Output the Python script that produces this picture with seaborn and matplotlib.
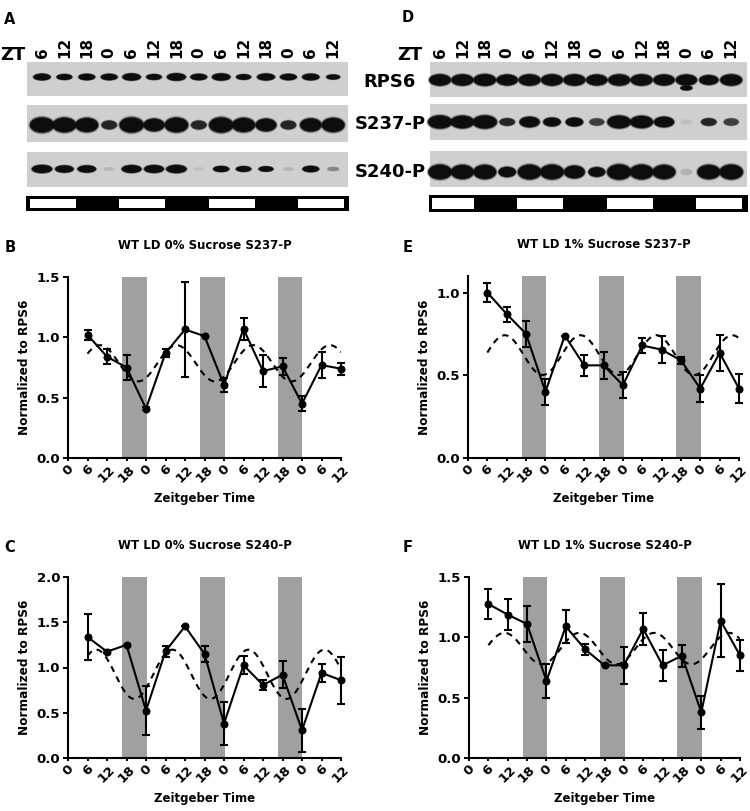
import numpy as np
import pandas as pd
import matplotlib
matplotlib.use("Agg")
import matplotlib.pyplot as plt
import seaborn as sns
from matplotlib.patches import Rectangle, Ellipse

sns.set_theme(style="ticks")
plt.rcParams["font.family"] = ["DejaVu Sans"]
plt.rcParams["font.weight"] = "bold"
plt.rcParams["axes.labelweight"] = "bold"
plt.rcParams["text.color"] = "black"
plt.rcParams["axes.labelcolor"] = "black"
plt.rcParams["xtick.color"] = "black"
plt.rcParams["ytick.color"] = "black"
plt.rcParams["axes.titlecolor"] = "black"

# ---------------- data ----------------
zt_hours = [6, 12, 18, 24, 30, 36, 42, 48, 54, 60, 66, 72, 78, 84]
x_ticks = [0, 6, 12, 18, 24, 30, 36, 42, 48, 54, 60, 66, 72, 78, 84]
x_tick_labels = ["0", "6", "12", "18", "0", "6", "12", "18", "0", "6", "12", "18", "0", "6", "12"]
lane_labels = ["6", "12", "18", "0", "6", "12", "18", "0", "6", "12", "18", "0", "6", "12"]
dark_periods = [(16.6, 24.2), (40.6, 48.2), (64.5, 72.1)]

# B: WT LD 0% Sucrose S237-P
b_mean = [1.02, 0.84, 0.75, 0.41, 0.87, 1.065, 1.01, 0.605, 1.07, 0.72, 0.76, 0.45, 0.77, 0.74]
b_err = [0.04, 0.06, 0.10, 0.01, 0.035, 0.39, 0.0, 0.06, 0.09, 0.13, 0.07, 0.06, 0.11, 0.05]
b_fit = dict(mesor=0.785, amp=0.15, period=23.6, peak=9.8)

# E: WT LD 1% Sucrose S237-P
e_mean = [1.00, 0.87, 0.75, 0.40, 0.74, 0.56, 0.56, 0.44, 0.68, 0.655, 0.59, 0.42, 0.635, 0.42]
e_err = [0.058, 0.045, 0.08, 0.08, 0.0, 0.063, 0.083, 0.08, 0.045, 0.083, 0.02, 0.08, 0.11, 0.085]
e_fit = dict(mesor=0.622, amp=0.12, period=23.5, peak=11.4)

# C: WT LD 0% Sucrose S240-P
c_mean = [1.337, 1.175, 1.25, 0.523, 1.18, 1.455, 1.15, 0.38, 1.025, 0.807, 0.92, 0.306, 0.94, 0.86]
c_err = [0.25, 0.02, 0.0, 0.27, 0.06, 0.0, 0.09, 0.24, 0.10, 0.055, 0.15, 0.24, 0.10, 0.26]
c_fit = dict(mesor=0.925, amp=0.272, period=23.4, peak=8.7)

# F: WT LD 1% Sucrose S240-P
f_mean = [1.276, 1.188, 1.11, 0.64, 1.09, 0.90, 0.768, 0.768, 1.07, 0.768, 0.848, 0.378, 1.138, 0.85]
f_err = [0.125, 0.13, 0.15, 0.14, 0.14, 0.045, 0.0, 0.155, 0.13, 0.128, 0.09, 0.138, 0.30, 0.125]
f_fit = dict(mesor=0.907, amp=0.13, period=23.2, peak=11.0)

# Western blot band intensities (0..1) per lane
a_rps6 = [0.75, 0.6, 0.7, 0.7, 0.85, 0.6, 0.9, 0.7, 0.85, 0.55, 0.8, 0.7, 0.75, 0.45]
a_s237 = [1.0, 0.95, 0.9, 0.35, 1.0, 0.75, 0.95, 0.35, 1.0, 0.9, 0.75, 0.35, 0.8, 0.9]
a_s240 = [0.85, 0.7, 0.7, 0.05, 0.8, 0.8, 0.85, 0.03, 0.5, 0.45, 0.4, 0.05, 0.55, 0.15]
d_rps6 = [0.9, 0.9, 0.95, 0.85, 0.9, 0.9, 0.9, 0.85, 0.9, 0.9, 0.85, 0.85, 0.7, 0.9]
d_rps6_lower = [0, 0, 0, 0, 0, 0, 0, 0, 0, 0, 0, 0.55, 0, 0]
d_s237 = [1.0, 0.95, 1.0, 0.35, 0.7, 0.5, 0.5, 0.3, 0.95, 0.9, 0.7, 0.03, 0.35, 0.3]
d_s240 = [0.95, 0.9, 0.9, 0.5, 0.95, 0.95, 0.75, 0.45, 1.0, 0.95, 0.9, 0.06, 0.9, 0.95]
blot_rows = ["RPS6", "S237-P", "S240-P"]

# ---------------- figure ----------------
W, H = 750, 811
fig = plt.figure(figsize=(W / 100, H / 100), dpi=100)
fig.patch.set_facecolor("white")


def axpx(l, t, r, b):
    return fig.add_axes([l / W, 1 - b / H, (r - l) / W, (b - t) / H])


# ---------- blots ----------
bax = axpx(0, 0, W, 220)
bax.set_xlim(0, W)
bax.set_ylim(220, 0)
bax.axis("off")

BG = 0.81


def draw_band(x, y, v, wmax, hmax):
    if v <= 0:
        return
    dark = min(1.0, v / 0.4)
    g = BG * (1 - dark) + 0.05 * dark
    w = wmax * (0.45 + 0.55 * v)
    h = hmax * (0.35 + 0.65 * v)
    for k, al in [(1.25, 0.25), (1.12, 0.5)]:
        bax.add_patch(Ellipse((x, y), w * (1 + (k - 1) * 0.5), h * k, color=(g, g, g), lw=0, alpha=al))
    bax.add_patch(Ellipse((x, y), w, h, color=(g, g, g), lw=0))


def draw_blot(x0, x1, lane0, step, strips, rows, ld_box, zt_x):
    for (t, b, yc, wmax, hmax), vals in zip(strips, rows):
        bax.add_patch(Rectangle((x0, t), x1 - x0, b - t, color="#cfcfcf", lw=0))
        for i, v in enumerate(vals):
            draw_band(lane0 + i * step, yc, v, wmax, hmax)
    # light/dark bar
    lt, lb = ld_box
    bax.add_patch(Rectangle((x0 - 1, lt), x1 - x0 + 2, lb - lt, color="black", lw=0))
    for i, zt in enumerate(lane_labels):
        if zt == "6":
            xa = lane0 + (i - 0.55) * step
            xb = lane0 + (i + 1.5) * step
            xa = max(xa, x0 + 2)
            xb = min(xb, x1 - 2)
            bax.add_patch(Rectangle((xa, lt + 3), xb - xa, lb - lt - 6, color="white", lw=0))
    for i, lab in enumerate(lane_labels):
        bax.text(lane0 + i * step, 58, lab, rotation=90, ha="center", va="bottom",
                 fontsize=11, fontweight="bold", color="black")
    bax.text(zt_x, 55, "ZT", ha="left", va="center", fontsize=13, fontweight="bold", color="black")


draw_blot(27, 348, 42, 22.4,
          [(62, 96, 77, 20, 8), (105, 142, 125, 24, 15), (152, 187, 169, 22, 9)],
          [a_rps6, a_s237, a_s240], (196, 211), 0)
draw_blot(430, 747, 440, 22.4,
          [(62, 97, 80, 23, 12), (104, 140, 122, 24, 13), (151, 187, 172, 24, 15)],
          [d_rps6, d_s237, d_s240], (195, 212), 397)
for i, v in enumerate(d_rps6_lower):
    draw_band(440 + i * 22.4, 88, v, 16, 7)

for lab, yc in zip(blot_rows, [82, 124, 172]):
    bax.text(390, yc, lab, ha="center", va="center", fontsize=13, fontweight="bold", color="black")


# ---------- line charts ----------
def line_panel(box, mean, err, fit, ymax, yticks, title):
    ax = axpx(*box)
    for a, b in dark_periods:
        ax.axvspan(a, b, ymin=0, ymax=1, color="#a0a0a0", lw=0, zorder=0)
    t = np.linspace(zt_hours[0], zt_hours[-1], 400)
    fit_df = pd.DataFrame({"t": t,
                           "y": fit["mesor"] + fit["amp"] * np.cos(2 * np.pi * (t - fit["peak"]) / fit["period"])})
    sns.lineplot(data=fit_df, x="t", y="y", ax=ax, color="black", lw=1.5,
                 linestyle=(0, (3, 2.5)), zorder=2)
    df = pd.DataFrame({"t": zt_hours, "y": mean, "e": err})
    ax.errorbar(df["t"], df["y"], yerr=df["e"], fmt="none", ecolor="black",
                elinewidth=1.5, capsize=3.2, capthick=1.5, zorder=3, clip_on=False)
    sns.lineplot(data=df, x="t", y="y", ax=ax, color="black", lw=1.5, marker="o",
                 markersize=5, markeredgecolor="black", zorder=4, clip_on=False)
    ax.set_xlim(0, 84)
    ax.set_ylim(0, ymax)
    ax.set_xticks(x_ticks)
    ax.set_xticklabels(x_tick_labels, rotation=45, ha="center", fontsize=9.5, fontweight="bold")
    ax.set_yticks(yticks)
    ax.set_yticklabels([f"{v:.1f}" for v in yticks], fontsize=9.5, fontweight="bold")
    ax.tick_params(axis="both", width=1.4, length=3.5, pad=2, colors="black")
    ax.tick_params(axis="x", length=2.5, pad=1)
    for s in ["top", "right"]:
        ax.spines[s].set_visible(False)
    for s in ["left", "bottom"]:
        ax.spines[s].set_linewidth(1.5)
        ax.spines[s].set_color("black")
    ax.set_facecolor("white")
    ax.set_xlabel("Zeitgeber Time", fontsize=8.5, fontweight="bold", labelpad=5, color="black")
    ax.set_ylabel("Normalized to RPS6", fontsize=8.7, fontweight="bold", labelpad=4, color="black")
    ax.set_title(title, fontsize=8.5, fontweight="bold", pad=20, color="black")
    return ax


line_panel((68, 277, 341, 458), b_mean, b_err, b_fit, 1.5, [0.0, 0.5, 1.0, 1.5],
           "WT LD 0% Sucrose S237-P")
line_panel((468, 276, 739, 458), e_mean, e_err, e_fit, 1.1, [0.0, 0.5, 1.0],
           "WT LD 1% Sucrose S237-P")
line_panel((68, 577, 341, 758), c_mean, c_err, c_fit, 2.0, [0.0, 0.5, 1.0, 1.5, 2.0],
           "WT LD 0% Sucrose S240-P")
line_panel((469, 577, 740, 758), f_mean, f_err, f_fit, 1.5, [0.0, 0.5, 1.0, 1.5],
           "WT LD 1% Sucrose S240-P")

for lab, x, y in [("A", 10, 20), ("D", 408, 18), ("B", 10, 248), ("E", 408, 247),
                  ("C", 10, 548), ("F", 408, 547)]:
    fig.text(x / W, 1 - y / H, lab, ha="center", va="center", fontsize=10.5,
             fontweight="bold", color="black")

fig.savefig("out.png", dpi=100)
